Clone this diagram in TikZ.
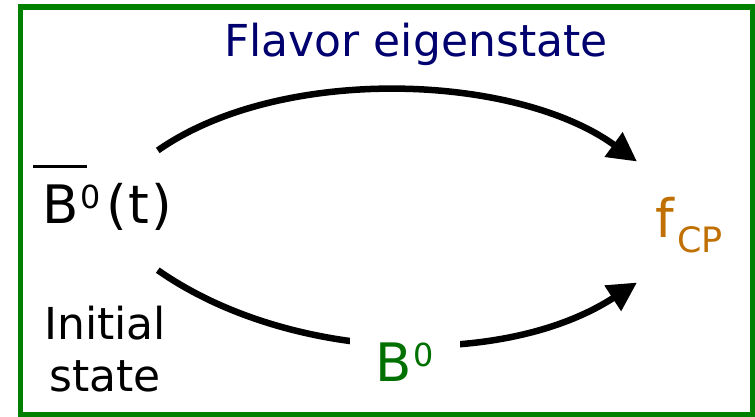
\documentclass[tikz,border=0pt]{standalone}
\usepackage{fontspec}
\setmainfont{DejaVu Sans}
\usetikzlibrary{arrows.meta}
\definecolor{frameg}{RGB}{0,128,0}
\definecolor{flavnavy}{RGB}{0,0,110}
\definecolor{cporange}{RGB}{191,112,0}
\definecolor{bgreen}{RGB}{0,112,0}
\newcommand{\upidx}[1]{\raisebox{0.29em}{\scalebox{0.6}{#1}}}
\newcommand{\dnidx}[1]{\raisebox{-0.28em}{\scalebox{0.66}{#1}}}
\newcommand{\barline}{\rlap{\kern-0.17em\raisebox{1.06em}{\rule{1.02em}{0.06em}}}}

\begin{document}
\begin{tikzpicture}[
    x=1pt, y=1pt,
    lbl/.style={inner sep=0pt, anchor=base},
    arrow/.style={-{Triangle[length=29pt,width=29pt]}, line width=6.5pt, draw=black}
  ]
  \useasboundingbox (0,0) rectangle (755,417);
  \draw[frameg, line width=5.5pt] (20.5,2.5) rectangle (752.5,410);
  \node[lbl, text=flavnavy, font=\fontsize{44}{52}\selectfont] (flav) at (416,360) {Flavor eigenstate};
  \node[lbl, anchor=base west, font=\fontsize{53}{60}\selectfont] (bbar) at (42,193) {\barline B\kern0.04em\upidx{0}\kern0.1em(\kern0.04em t\kern0.04em)};
  \node[lbl, anchor=base west, text=cporange, font=\fontsize{53}{60}\selectfont] (fcp) at (655,179) {f\kern0.06em\dnidx{CP}};
  \node[lbl, align=center, font=\fontsize{44}{52}\selectfont] (init) at (105,25) {Initial\\state};
  \draw[arrow] ([xshift=-15pt,yshift=14pt]bbar.north east) to[out=35,in=144,looseness=0.8] ([xshift=-18pt,yshift=36pt]fcp.north west);
  \draw[arrow] ([xshift=-15pt,yshift=-39pt]bbar.south east) to[out=-35,in=-147,looseness=0.85] ([xshift=-18pt,yshift=-29pt]fcp.south west);
  \node[lbl, text=bgreen, fill=white, inner xsep=26pt, inner ysep=8pt, font=\fontsize{53}{60}\selectfont] (bzero) at (405,35) {B\kern0.03em\upidx{0}};
\end{tikzpicture}
\end{document}
